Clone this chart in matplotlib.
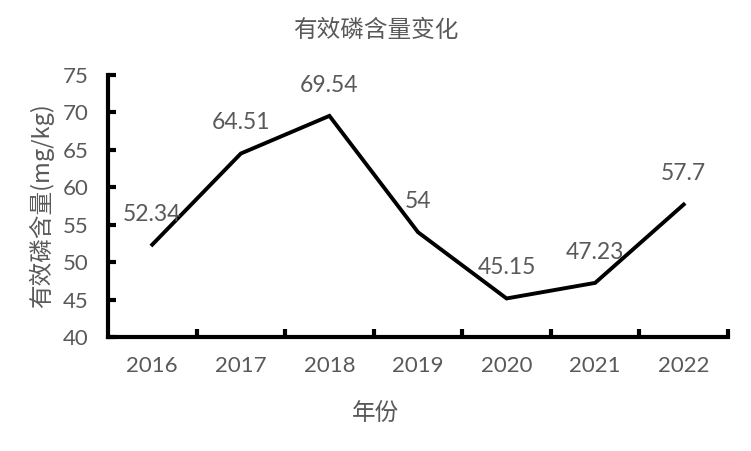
import matplotlib
matplotlib.use("Agg")
import matplotlib.pyplot as plt
from matplotlib.ticker import FixedLocator

plt.rcParams['font.family'] = ['Lato', 'Noto Sans CJK SC', 'DejaVu Sans']

years = ['2016', '2017', '2018', '2019', '2020', '2021', '2022']
values = [52.34, 64.51, 69.54, 54, 45.15, 47.23, 57.7]
value_labels = ['52.34', '64.51', '69.54', '54', '45.15', '47.23', '57.7']
grey = '#595959'
cjk = ['Noto Sans CJK SC', 'DejaVu Sans']

fig = plt.figure(figsize=(7.51, 4.51), dpi=100)
ax = fig.add_axes([108 / 751, 1 - 337 / 451, 620 / 751, 262 / 451])

x = list(range(len(years)))
ax.plot(x, values, color='black', linewidth=2.8, solid_joinstyle='miter')

for xi, v, lab in zip(x, values, value_labels):
    ax.annotate(lab, (xi, v), xytext=(0, 22), textcoords='offset points',
                ha='center', va='center', fontsize=16.5, color=grey)

ax.set_xlim(-0.5, len(years) - 0.5)
ax.set_ylim(40, 75)
ax.set_yticks(range(40, 80, 5))
ax.set_xticks(x)
ax.set_xticklabels(years)
ax.xaxis.set_minor_locator(FixedLocator([i + 0.5 for i in x]))

for s in ['top', 'right']:
    ax.spines[s].set_visible(False)
for s in ['left', 'bottom']:
    ax.spines[s].set_linewidth(3)
    ax.spines[s].set_color('black')

ax.tick_params(axis='y', direction='in', length=6, width=3, labelsize=16,
               labelcolor=grey, pad=14)
ax.tick_params(axis='x', which='major', length=0, labelsize=16,
               labelcolor=grey, pad=14)
ax.tick_params(axis='x', which='minor', direction='in', length=6, width=3)

ax.set_ylabel('有效磷含量(mg/kg)', family=cjk, fontsize=17, color=grey,
              labelpad=6)
fig.text(0.5, 1 - 30 / 451, '有效磷含量变化', family=cjk, fontsize=17,
         color=grey, ha='center', va='center')
fig.text(0.5, 1 - 413 / 451, '年份', family=cjk, fontsize=17,
         color=grey, ha='center', va='center')

fig.savefig('out.png', dpi=100)
